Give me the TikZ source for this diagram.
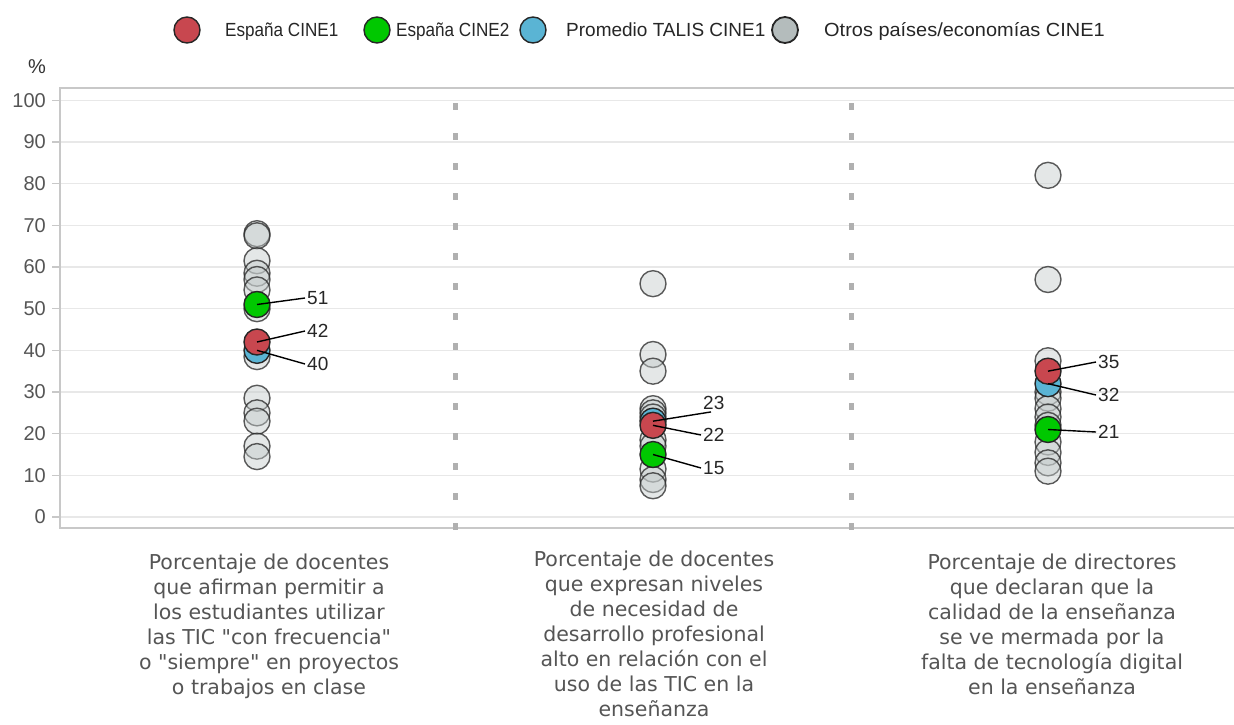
\documentclass[tikz,border=0pt]{standalone}
\usepackage{fontspec}
\usepackage{graphicx}
\newfontfamily\catf{DejaVu Sans}
\newfontfamily\arialf{Liberation Sans}
\definecolor{espA}{HTML}{C8474F}
\definecolor{espB}{HTML}{00C800}
\definecolor{promT}{HTML}{5AB4D4}
\definecolor{othfill}{HTML}{C4CBCB}
\definecolor{leggray}{HTML}{B4BCBC}
\definecolor{gridc}{HTML}{E8E8E8}
\definecolor{framec}{HTML}{C8C8C8}
\definecolor{sepc}{HTML}{B0B0B0}
\definecolor{txtg}{HTML}{555555}
\begin{document}
\begin{tikzpicture}[x=1pt,y=-1pt,
  dot/.style={circle,draw=black!85,line width=1.4pt,minimum size=26pt,inner sep=0pt},
  other/.style={dot,fill=othfill,fill opacity=0.45,draw opacity=0.75},
  sp1/.style={dot,fill=espA},
  sp2/.style={dot,fill=espB},
  prom/.style={dot,fill=promT},
  legtxt/.style={anchor=base west,inner sep=0pt,font=\arialf\fontsize{19}{22}\selectfont,text=black!85},
  vlab/.style={anchor=west,inner sep=2pt,font=\arialf\fontsize{19}{22}\selectfont,text=black!85},
  ylab/.style={anchor=east,inner sep=0pt,font=\arialf\fontsize{20}{22}\selectfont,text=txtg},
  leader/.style={draw=black,line width=1.4pt},
  cat/.style={anchor=north,inner sep=0pt,align=center,font=\catf\fontsize{20.5}{25}\selectfont,text=txtg},
  grid/.style={draw=gridc,line width=1.6pt},
  sepline/.style={draw=sepc,line width=5pt,dash pattern=on 7pt off 23pt},
]
\useasboundingbox (0,0) rectangle (1234,724);
\fill[white] (0,0) rectangle (1234,724);

% grid and ticks
\foreach \v in {0,10,...,100} {
  \draw[grid] (60,{517-4.1667*\v}) -- (1234,{517-4.1667*\v});
  \draw[draw=framec,line width=1.2pt] (52,{517-4.1667*\v}) -- (60,{517-4.1667*\v});
  \node[ylab] (yl\v) at (46,{517-4.1667*\v}) {\v};
}
\node[ylab,text=black!80] (pct) at (46,67) {\%};
% frame
\draw[draw=framec,line width=1.6pt] (1234,88) -- (60,88) -- (60,528) -- (1234,528);

% separators
\draw[sepline] (455,103) -- (455,530);
\draw[sepline] (851,103) -- (851,530);

% column 1
\foreach \v [count=\i] in {68,67.5,61.5,58.5,57,54.5,50,38.5,28.5,25,23,17,14.5}
  \node[other] (a\i) at (257,{517-4.1667*\v}) {};
\node[prom] (a-prom) at (257,{517-4.1667*40}) {};
\node[sp1] (a-esp1) at (257,{517-4.1667*42}) {};
\node[sp2] (a-esp2) at (257,{517-4.1667*51}) {};
\node[vlab] (la51) at (305,298) {51};
\node[vlab] (la42) at (305,331) {42};
\node[vlab] (la40) at (305,364) {40};
\draw[leader] (a-esp2.center) -- (la51.west);
\draw[leader] (a-esp1.center) -- (la42.west);
\draw[leader] (a-prom.center) -- (la40.west);

% column 2
\foreach \v [count=\i] in {56,39,35,26,25,24,18.5,17,11.5,9,7.5}
  \node[other] (b\i) at (653,{517-4.1667*\v}) {};
\node[prom] (b-prom) at (653,{517-4.1667*23}) {};
\node[sp1] (b-esp1) at (653,{517-4.1667*22}) {};
\node[sp2] (b-esp2) at (653,{517-4.1667*15}) {};
\node[vlab] (lb23) at (701,403) {23};
\node[vlab] (lb22) at (701,435) {22};
\node[vlab] (lb15) at (701,468) {15};
\draw[leader] (b-prom.center) -- ([xshift=10pt]lb23.south west);
\draw[leader] (b-esp1.center) -- (lb22.west);
\draw[leader] (b-esp2.center) -- (lb15.west);

% column 3
\foreach \v [count=\i] in {82,57,37.5,30,28.5,26,24,22,18,15.5,13,11}
  \node[other] (c\i) at (1048,{517-4.1667*\v}) {};
\node[prom] (c-prom) at (1048,{517-4.1667*32}) {};
\node[sp1] (c-esp1) at (1048,{517-4.1667*35}) {};
\node[sp2] (c-esp2) at (1048,{517-4.1667*21}) {};
\node[vlab] (lc35) at (1096,362) {35};
\node[vlab] (lc32) at (1096,395) {32};
\node[vlab] (lc21) at (1096,432) {21};
\draw[leader] (c-esp1.center) -- (lc35.west);
\draw[leader] (c-prom.center) -- (lc32.west);
\draw[leader] (c-esp2.center) -- (lc21.west);

% category labels
\node[cat] (cat1) at (269,554) {Porcentaje de docentes\\que afirman permitir a\\los estudiantes utilizar\\las TIC "con frecuencia"\\o "siempre" en proyectos\\o trabajos en clase};
\node[cat] (cat2) at (654,551) {Porcentaje de docentes\\que expresan niveles\\de necesidad de\\desarrollo profesional\\alto en relación con el\\uso de las TIC en la\\enseñanza};
\node[cat] (cat3) at (1052,554) {Porcentaje de directores\\que declaran que la\\calidad de la enseñanza\\se ve mermada por la\\falta de tecnología digital\\en la enseñanza};

% legend
\node[sp1] (leg1) at (187,30) {};
\node[legtxt] (legt1) at (225,36) {\scalebox{0.9}[1]{España CINE1}};
\node[sp2] (leg2) at (377,30) {};
\node[legtxt] (legt2) at (396,36) {\scalebox{0.9}[1]{España CINE2}};
\node[prom] (leg3) at (533,30) {};
\node[legtxt] (legt3) at (566,36) {Promedio TALIS CINE1};
\node[dot,fill=leggray,line width=1.8pt] (leg4) at (785,30) {};
\node[legtxt] (legt4) at (824,36) {\scalebox{1.05}[1]{Otros países/economías CINE1}};
\end{tikzpicture}
\end{document}
